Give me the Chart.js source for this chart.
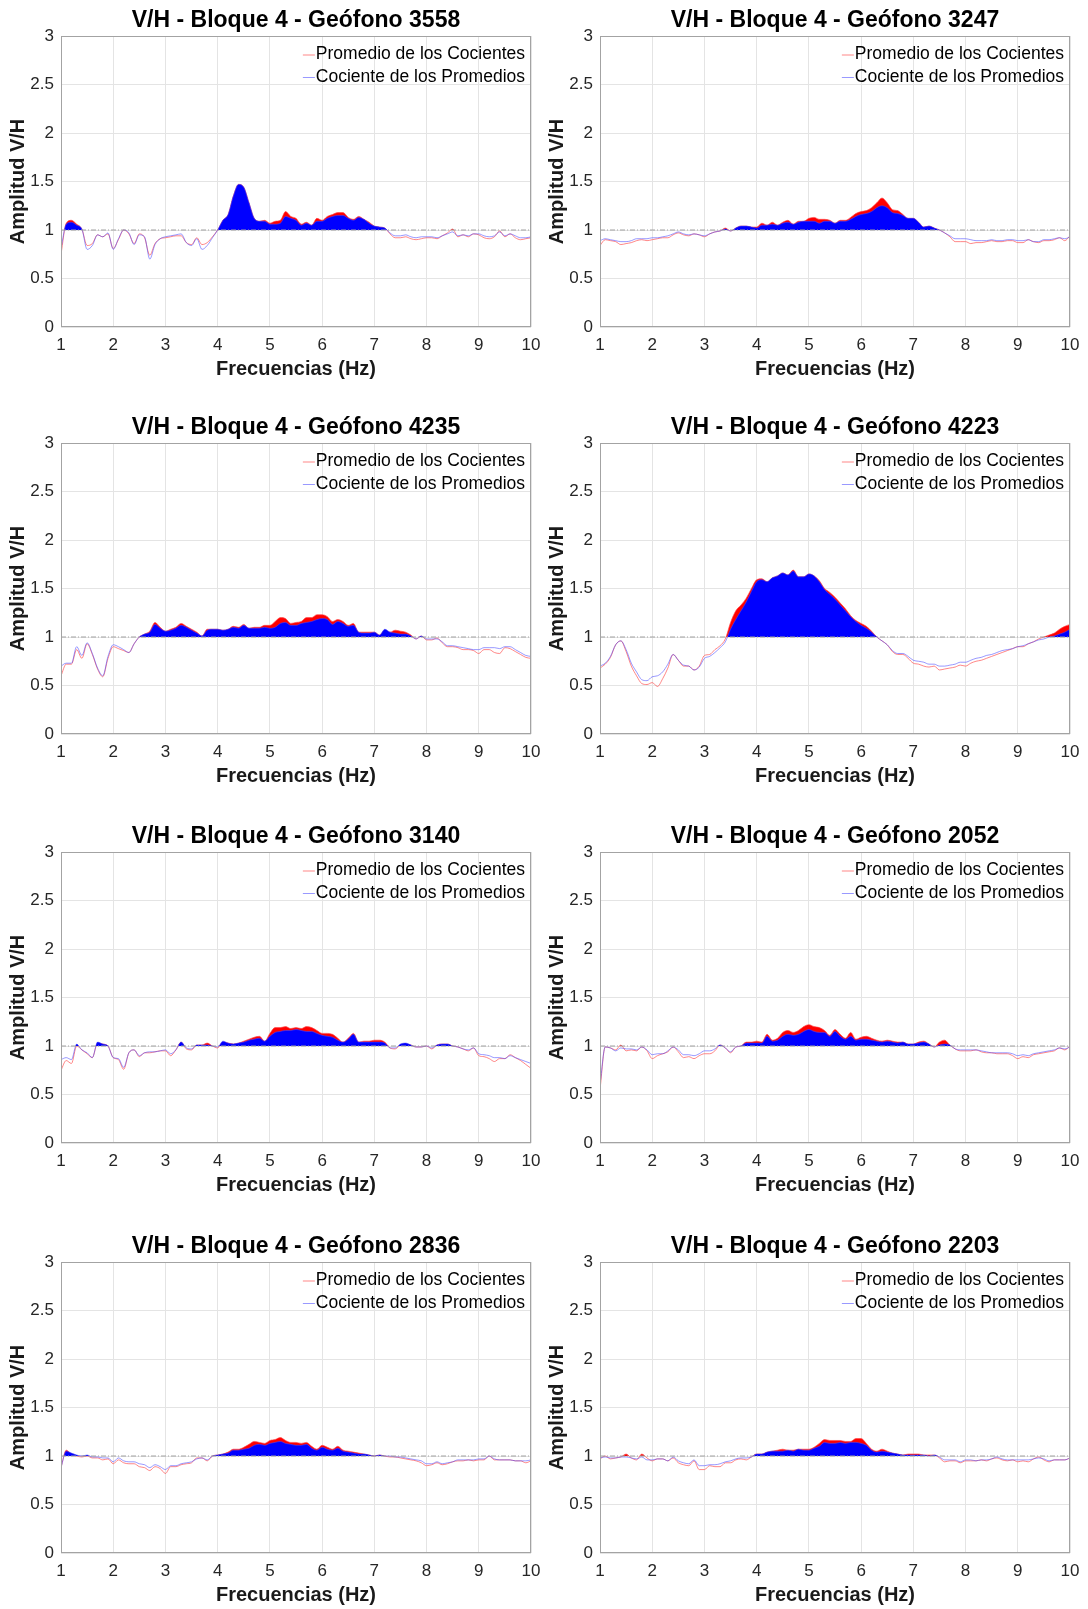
<!DOCTYPE html>
<html>
<head>
<meta charset="utf-8">
<script src="https://cdn.jsdelivr.net/npm/chart.js@4.4.1/dist/chart.umd.min.js"></script>
<style>
  html, body { margin: 0; padding: 0; background: #fff; overflow: hidden; width: 1088px; height: 1609px; }
  canvas { position: absolute; }
</style>
</head>
<body>
<script>
// frequency axis (Hz)
const freqHz = [1.0,1.1,1.2,1.3,1.4,1.5,1.6,1.7,1.8,1.9,
  2.0,2.1,2.2,2.3,2.4,2.5,2.6,2.7,2.8,2.9,
  3.0,3.1,3.2,3.3,3.4,3.5,3.6,3.7,3.8,3.9,
  4.0,4.1,4.2,4.3,4.4,4.5,4.6,4.7,4.8,4.9,
  5.0,5.1,5.2,5.3,5.4,5.5,5.6,5.7,5.8,5.9,
  6.0,6.1,6.2,6.3,6.4,6.5,6.6,6.7,6.8,6.9,
  7.0,7.1,7.2,7.3,7.4,7.5,7.6,7.7,7.8,7.9,
  8.0,8.1,8.2,8.3,8.4,8.5,8.6,8.7,8.8,8.9,
  9.0,9.1,9.2,9.3,9.4,9.5,9.6,9.7,9.8,9.9,
  10.0];

const xTicks = [1, 2, 3, 4, 5, 6, 7, 8, 9, 10];
const yTicks = [0, 0.5, 1, 1.5, 2, 2.5, 3];
const refLevel = 1;

const geofonos = ['3558', '3247', '4235', '4223', '3140', '2052', '2836', '2203'];

// Promedio de los Cocientes (red) / Cociente de los Promedios (blue)
const prom3558 = [0.75,1.07,1.10,1.06,1.01,0.84,0.86,0.95,0.93,0.96,
  0.81,0.90,1.00,0.96,0.86,0.96,0.92,0.74,0.86,0.91,
  0.92,0.93,0.94,0.94,0.87,0.85,0.92,0.85,0.87,0.93,
  1.00,1.10,1.16,1.35,1.47,1.44,1.28,1.12,1.09,1.10,
  1.07,1.09,1.10,1.19,1.14,1.12,1.06,1.08,1.05,1.12,
  1.10,1.14,1.16,1.18,1.18,1.13,1.11,1.14,1.11,1.08,
  1.04,1.03,1.02,0.96,0.92,0.92,0.93,0.91,0.90,0.91,
  0.92,0.92,0.91,0.94,0.97,1.01,0.93,0.95,0.93,0.96,
  0.95,0.92,0.91,0.93,0.99,0.93,0.96,0.92,0.90,0.91,
  0.92];
const coc3558 = [0.81,1.06,1.08,1.05,1.01,0.80,0.84,0.95,0.93,0.97,
  0.80,0.91,1.00,0.97,0.85,0.95,0.93,0.70,0.85,0.91,
  0.93,0.94,0.95,0.96,0.87,0.84,0.91,0.80,0.84,0.92,
  1.00,1.10,1.16,1.35,1.47,1.44,1.28,1.12,1.09,1.09,
  1.06,1.06,1.07,1.14,1.12,1.10,1.05,1.07,1.05,1.09,
  1.09,1.12,1.14,1.15,1.15,1.12,1.10,1.13,1.11,1.07,
  1.04,1.03,1.02,0.97,0.94,0.94,0.95,0.93,0.92,0.93,
  0.93,0.93,0.92,0.94,0.96,0.98,0.94,0.95,0.94,0.96,
  0.96,0.94,0.93,0.94,0.98,0.94,0.96,0.94,0.92,0.92,
  0.93];

const prom3247 = [0.84,0.90,0.89,0.88,0.85,0.86,0.87,0.89,0.90,0.89,
  0.90,0.91,0.92,0.92,0.95,0.97,0.95,0.94,0.96,0.95,
  0.93,0.96,0.98,0.99,1.02,0.99,1.02,1.04,1.04,1.03,
  1.03,1.07,1.05,1.08,1.05,1.08,1.10,1.06,1.09,1.09,
  1.12,1.13,1.11,1.11,1.10,1.07,1.10,1.10,1.13,1.17,
  1.19,1.20,1.23,1.28,1.33,1.28,1.21,1.20,1.16,1.12,
  1.12,1.08,1.03,1.04,1.02,1.00,0.97,0.93,0.88,0.88,
  0.88,0.86,0.87,0.87,0.88,0.89,0.88,0.88,0.89,0.89,
  0.87,0.87,0.90,0.88,0.87,0.89,0.89,0.90,0.92,0.89,
  0.94];
const coc3247 = [0.89,0.91,0.90,0.89,0.88,0.88,0.89,0.91,0.91,0.91,
  0.92,0.92,0.93,0.94,0.96,0.98,0.96,0.95,0.96,0.95,
  0.94,0.96,0.98,0.99,1.01,0.99,1.02,1.04,1.04,1.03,
  1.02,1.05,1.05,1.06,1.05,1.07,1.08,1.06,1.08,1.09,
  1.09,1.09,1.07,1.09,1.09,1.07,1.09,1.09,1.11,1.14,
  1.16,1.17,1.19,1.23,1.25,1.23,1.18,1.17,1.15,1.12,
  1.12,1.08,1.03,1.04,1.02,1.00,0.97,0.94,0.91,0.91,
  0.91,0.90,0.89,0.89,0.89,0.90,0.89,0.89,0.90,0.90,
  0.89,0.89,0.90,0.88,0.88,0.90,0.90,0.91,0.92,0.91,
  0.93];

const prom4235 = [0.60,0.72,0.72,0.87,0.78,0.93,0.82,0.67,0.59,0.78,
  0.90,0.88,0.86,0.84,0.93,1.00,1.03,1.06,1.15,1.10,
  1.06,1.08,1.10,1.14,1.11,1.08,1.05,1.01,1.08,1.08,
  1.08,1.07,1.08,1.11,1.10,1.13,1.09,1.10,1.10,1.12,
  1.12,1.16,1.20,1.19,1.14,1.15,1.16,1.20,1.20,1.23,
  1.23,1.21,1.16,1.18,1.16,1.12,1.14,1.05,1.05,1.05,
  1.05,1.02,1.07,1.05,1.07,1.06,1.05,1.02,0.98,1.01,
  0.97,0.97,0.99,0.94,0.90,0.90,0.89,0.87,0.87,0.86,
  0.83,0.87,0.87,0.84,0.83,0.89,0.88,0.85,0.82,0.79,
  0.78];
const coc4235 = [0.70,0.73,0.73,0.90,0.81,0.94,0.83,0.68,0.60,0.80,
  0.92,0.90,0.87,0.84,0.93,1.00,1.03,1.05,1.13,1.09,
  1.06,1.07,1.09,1.12,1.10,1.07,1.04,1.01,1.07,1.08,
  1.08,1.07,1.08,1.10,1.09,1.12,1.09,1.09,1.09,1.10,
  1.09,1.10,1.14,1.15,1.12,1.12,1.14,1.15,1.16,1.18,
  1.19,1.18,1.13,1.16,1.14,1.11,1.12,1.05,1.04,1.04,
  1.05,1.02,1.08,1.05,1.04,1.03,1.03,1.01,0.98,1.01,
  0.98,0.98,0.98,0.95,0.91,0.91,0.90,0.89,0.88,0.87,
  0.87,0.89,0.89,0.89,0.88,0.90,0.90,0.87,0.84,0.81,
  0.80];

const prom4223 = [0.68,0.72,0.79,0.92,0.96,0.85,0.70,0.60,0.52,0.51,
  0.53,0.49,0.57,0.68,0.82,0.76,0.70,0.70,0.66,0.70,
  0.81,0.82,0.87,0.91,0.98,1.15,1.27,1.33,1.40,1.50,
  1.59,1.60,1.57,1.61,1.63,1.66,1.64,1.69,1.62,1.62,
  1.65,1.63,1.58,1.50,1.46,1.41,1.35,1.29,1.22,1.17,
  1.14,1.11,1.06,1.00,0.96,0.92,0.85,0.82,0.82,0.78,
  0.73,0.72,0.70,0.69,0.70,0.66,0.67,0.68,0.69,0.71,
  0.70,0.73,0.75,0.76,0.78,0.80,0.82,0.84,0.86,0.88,
  0.90,0.90,0.93,0.95,0.98,1.00,1.02,1.04,1.08,1.11,
  1.13];
const coc4223 = [0.70,0.73,0.80,0.92,0.96,0.87,0.73,0.64,0.56,0.55,
  0.59,0.60,0.64,0.72,0.82,0.76,0.71,0.70,0.66,0.69,
  0.78,0.80,0.84,0.89,0.95,1.08,1.18,1.27,1.36,1.47,
  1.57,1.59,1.57,1.61,1.63,1.66,1.64,1.68,1.62,1.62,
  1.65,1.63,1.57,1.49,1.44,1.39,1.33,1.27,1.21,1.16,
  1.12,1.09,1.05,1.00,0.96,0.92,0.86,0.83,0.83,0.80,
  0.76,0.75,0.74,0.72,0.72,0.70,0.70,0.71,0.72,0.74,
  0.74,0.76,0.78,0.79,0.81,0.82,0.84,0.86,0.87,0.88,
  0.90,0.91,0.93,0.95,0.97,0.98,1.00,1.01,1.03,1.05,
  1.08];

const prom3140 = [0.75,0.85,0.82,1.00,0.96,0.92,0.88,1.03,1.02,1.00,
  0.88,0.86,0.76,0.93,0.96,0.89,0.93,0.93,0.94,0.95,
  0.95,0.90,0.96,1.04,0.97,0.96,1.01,1.01,1.03,1.00,
  0.98,1.04,1.03,1.02,1.03,1.05,1.07,1.09,1.10,1.05,
  1.13,1.19,1.19,1.20,1.18,1.19,1.18,1.20,1.19,1.16,
  1.13,1.13,1.12,1.08,1.04,1.08,1.13,1.04,1.05,1.05,
  1.06,1.06,1.04,0.98,0.97,1.01,1.02,1.01,0.99,0.99,
  1.00,0.97,1.01,1.02,1.02,1.00,0.99,0.97,0.95,0.98,
  0.90,0.89,0.87,0.84,0.87,0.87,0.91,0.88,0.85,0.81,
  0.77];
const coc3140 = [0.86,0.88,0.86,1.02,0.96,0.93,0.88,1.04,1.02,1.00,
  0.88,0.87,0.78,0.93,0.96,0.90,0.93,0.94,0.94,0.95,
  0.96,0.92,0.96,1.04,0.98,0.97,1.01,1.01,1.01,1.00,
  0.99,1.05,1.03,1.02,1.03,1.04,1.06,1.07,1.08,1.05,
  1.10,1.14,1.15,1.16,1.16,1.17,1.16,1.15,1.15,1.13,
  1.11,1.10,1.09,1.06,1.04,1.07,1.12,1.04,1.04,1.04,
  1.04,1.04,1.03,0.98,0.98,1.02,1.03,1.01,0.99,0.99,
  1.00,0.98,1.01,1.02,1.02,1.00,0.99,0.97,0.96,0.98,
  0.92,0.91,0.90,0.88,0.88,0.87,0.90,0.88,0.86,0.84,
  0.82];

const prom2052 = [0.55,0.99,0.98,0.96,1.01,0.95,0.96,0.95,0.99,0.95,
  0.87,0.90,0.92,0.94,0.99,0.94,0.88,0.89,0.87,0.90,
  0.92,0.92,0.95,1.01,0.98,0.93,0.99,1.00,1.04,1.04,
  1.05,1.04,1.12,1.06,1.08,1.14,1.16,1.14,1.16,1.20,
  1.22,1.20,1.19,1.16,1.11,1.17,1.12,1.08,1.14,1.07,
  1.09,1.10,1.08,1.06,1.05,1.06,1.05,1.04,1.04,1.02,
  1.02,1.04,1.05,1.02,0.99,1.04,1.06,1.01,0.97,0.95,
  0.95,0.95,0.96,0.94,0.93,0.93,0.92,0.92,0.92,0.90,
  0.87,0.89,0.88,0.91,0.92,0.93,0.94,0.95,0.98,0.96,
  1.00];
const coc2052 = [0.60,0.99,0.98,0.95,0.98,0.97,0.97,0.96,0.99,0.96,
  0.91,0.92,0.92,0.95,0.99,0.96,0.91,0.91,0.90,0.92,
  0.95,0.95,0.97,1.01,0.98,0.94,0.99,1.00,1.03,1.03,
  1.03,1.03,1.10,1.05,1.06,1.10,1.12,1.11,1.12,1.15,
  1.17,1.15,1.14,1.14,1.10,1.15,1.10,1.07,1.10,1.06,
  1.07,1.07,1.06,1.05,1.04,1.05,1.04,1.03,1.04,1.02,
  1.02,1.03,1.04,1.02,0.99,1.01,1.02,1.01,0.97,0.96,
  0.96,0.96,0.96,0.95,0.94,0.93,0.93,0.93,0.93,0.92,
  0.90,0.91,0.90,0.92,0.93,0.94,0.95,0.96,0.98,0.97,
  0.99];

const prom2836 = [0.88,1.06,1.02,1.00,0.99,1.00,0.98,0.98,0.96,0.97,
  0.92,0.96,0.93,0.92,0.92,0.89,0.88,0.85,0.89,0.87,
  0.82,0.89,0.89,0.91,0.92,0.93,0.98,0.98,0.95,1.00,
  1.01,1.02,1.04,1.07,1.07,1.09,1.12,1.15,1.14,1.13,
  1.16,1.17,1.19,1.16,1.14,1.14,1.13,1.14,1.10,1.07,
  1.11,1.09,1.07,1.10,1.06,1.05,1.04,1.03,1.02,1.01,
  1.00,1.01,1.00,0.99,0.99,0.98,0.97,0.96,0.95,0.93,
  0.90,0.91,0.93,0.91,0.92,0.94,0.95,0.95,0.96,0.95,
  0.96,0.96,1.00,0.96,0.96,0.96,0.96,0.95,0.95,0.93,
  0.95];
const coc2836 = [0.88,1.05,1.03,1.01,1.00,1.01,0.99,0.99,0.98,0.98,
  0.94,0.98,0.95,0.94,0.94,0.92,0.91,0.88,0.91,0.89,
  0.86,0.90,0.90,0.92,0.93,0.94,0.97,0.98,0.96,1.00,
  1.01,1.02,1.03,1.06,1.06,1.07,1.08,1.11,1.12,1.11,
  1.13,1.14,1.15,1.13,1.12,1.11,1.11,1.12,1.08,1.06,
  1.09,1.07,1.06,1.08,1.05,1.04,1.03,1.02,1.02,1.01,
  1.00,1.01,1.00,1.00,0.99,0.99,0.98,0.97,0.96,0.95,
  0.92,0.92,0.94,0.92,0.93,0.94,0.96,0.96,0.96,0.96,
  0.97,0.97,1.00,0.97,0.96,0.96,0.96,0.95,0.95,0.95,
  0.96];

const prom2203 = [0.97,1.00,0.97,0.98,0.99,1.02,0.98,0.96,1.02,0.98,
  0.95,0.97,0.97,0.95,0.98,0.93,0.91,0.90,0.95,0.86,
  0.86,0.90,0.89,0.89,0.93,0.93,0.96,0.97,0.96,0.99,
  1.02,1.02,1.04,1.05,1.06,1.07,1.06,1.06,1.07,1.07,
  1.07,1.09,1.13,1.17,1.16,1.16,1.16,1.15,1.15,1.18,
  1.18,1.13,1.07,1.05,1.07,1.05,1.03,1.02,1.01,1.02,
  1.02,1.02,1.01,1.01,1.01,0.98,0.94,0.95,0.95,0.93,
  0.95,0.95,0.95,0.96,0.95,0.97,0.98,0.96,0.95,0.96,
  0.94,0.95,0.94,0.97,0.99,0.96,0.94,0.96,0.96,0.96,
  0.98];
const coc2203 = [0.98,0.99,0.98,0.98,0.99,0.99,0.98,0.97,0.99,0.96,
  0.96,0.97,0.97,0.95,0.99,0.95,0.93,0.92,0.96,0.90,
  0.90,0.91,0.91,0.92,0.94,0.95,0.97,0.98,0.98,0.99,
  1.02,1.02,1.04,1.05,1.05,1.05,1.06,1.05,1.07,1.06,
  1.06,1.08,1.10,1.14,1.13,1.13,1.14,1.13,1.14,1.14,
  1.13,1.11,1.06,1.04,1.05,1.04,1.03,1.02,1.01,1.01,
  1.01,1.01,1.01,1.00,1.01,0.99,0.96,0.96,0.96,0.94,
  0.96,0.96,0.95,0.96,0.96,0.97,0.99,0.97,0.96,0.96,
  0.96,0.96,0.96,0.97,0.98,0.97,0.95,0.96,0.96,0.96,
  0.98];

const promedios = [prom3558, prom3247, prom4235, prom4223, prom3140, prom2052, prom2836, prom2203];
const cocientes = [coc3558, coc3247, coc4235, coc4223, coc3140, coc2052, coc2836, coc2203];

const FONT = '"Liberation Sans", Arial, Helvetica, sans-serif';
Chart.defaults.font.family = FONT;

const gridColor = '#e4e4e4';
const boxColor = '#a3a3a3';
const tickColor = '#262626';

// grey box round the plot area (MATLAB "box on")
const boxPlugin = {
  id: 'axesBox',
  afterDraw(chart) {
    const { ctx, chartArea: a } = chart;
    ctx.save();
    ctx.strokeStyle = boxColor;
    ctx.lineWidth = 1;
    ctx.strokeRect(Math.round(a.left) + 0.5, Math.round(a.top) + 0.5,
      Math.round(a.right - a.left) - 1, Math.round(a.bottom - a.top) - 1);
    ctx.restore();
  }
};

// legend in the upper right corner, inside the axes, no frame
const cornerLegend = {
  id: 'cornerLegend',
  afterDraw(chart) {
    const { ctx, chartArea: a } = chart;
    const items = chart.data.datasets.filter(d => d.inLegend);
    ctx.save();
    ctx.font = '17.5px ' + FONT;
    const w = Math.max(...items.map(d => ctx.measureText(d.label).width));
    const tx = a.right - 6 - w;
    items.forEach((d, i) => {
      const y = a.top + 18.5 + i * 22.5;
      ctx.strokeStyle = d.borderColor;
      ctx.lineWidth = 1;
      ctx.beginPath();
      ctx.moveTo(tx - 13, y + 0.5);
      ctx.lineTo(tx - 1, y + 0.5);
      ctx.stroke();
      ctx.fillStyle = '#000';
      ctx.textAlign = 'left';
      ctx.textBaseline = 'middle';
      ctx.fillText(d.label, tx, y);
    });
    ctx.restore();
  }
};

const toPoints = ys => ys.map((v, i) => ({ x: freqHz[i], y: v }));

const colLeft = [0, 539];
const rowTop = [0, 407, 816, 1226];

geofonos.forEach((g, k) => {
  const canvas = document.createElement('canvas');
  canvas.width = 592;
  canvas.height = 382;
  canvas.style.left = colLeft[k % 2] + 'px';
  canvas.style.top = rowTop[Math.floor(k / 2)] + 'px';
  document.body.appendChild(canvas);

  new Chart(canvas.getContext('2d'), {
    type: 'line',
    data: {
      datasets: [{
        label: 'Promedio de los Cocientes',
        data: toPoints(promedios[k]),
        borderColor: 'rgba(255, 70, 70, 0.65)',
        borderWidth: 1,
        pointRadius: 0,
        cubicInterpolationMode: 'monotone',
        fill: { target: { value: refLevel }, above: '#ff0000', below: 'rgba(0,0,0,0)' },
        inLegend: true,
        order: 2
      }, {
        label: 'Cociente de los Promedios',
        data: toPoints(cocientes[k]),
        borderColor: 'rgba(70, 70, 255, 0.55)',
        borderWidth: 1,
        pointRadius: 0,
        cubicInterpolationMode: 'monotone',
        fill: { target: { value: refLevel }, above: '#0000ff', below: 'rgba(0,0,0,0)' },
        inLegend: true,
        order: 1
      }, {
        label: 'ref',
        data: [{ x: freqHz[0], y: refLevel }, { x: freqHz[freqHz.length - 1], y: refLevel }],
        borderColor: '#a0a0a0',
        borderWidth: 1,
        borderDash: [5, 2, 1, 2],
        pointRadius: 0,
        fill: false,
        order: 0
      }]
    },
    options: {
      responsive: false,
      animation: false,
      events: [],
      layout: { padding: 0 },
      plugins: {
        legend: { display: false },
        tooltip: { enabled: false },
        title: {
          display: true,
          text: 'V/H - Bloque 4 - Geófono ' + g,
          color: '#000',
          font: { size: 23, weight: 'bold' },
          padding: { top: 7, bottom: 1.4 }
        }
      },
      scales: {
        x: {
          type: 'linear',
          min: 1, max: 10,
          afterBuildTicks: s => { s.ticks = xTicks.map(v => ({ value: v })); },
          afterFit: s => { s.height = 55; },
          ticks: { color: tickColor, font: { size: 17 }, padding: 8.5, maxRotation: 0, callback: v => String(v) },
          grid: { color: gridColor, drawTicks: false },
          border: { display: false },
          title: {
            display: true, text: 'Frecuencias (Hz)', color: '#1a1a1a',
            font: { size: 20, weight: 'bold' }, padding: { top: 0, bottom: 1 }
          }
        },
        y: {
          min: 0, max: 3,
          afterBuildTicks: s => { s.ticks = yTicks.map(v => ({ value: v })); },
          afterFit: s => { s.width = 61; },
          ticks: { color: tickColor, font: { size: 17 }, padding: 7, callback: v => String(v) },
          grid: { color: gridColor, drawTicks: false },
          border: { display: false },
          title: {
            display: true, text: 'Amplitud V/H', color: '#1a1a1a',
            font: { size: 20, weight: 'bold' }, padding: { top: 6.5, bottom: 0 }
          }
        },
        // empty right-hand axis: keeps the plot box where it is and the title centred on it
        yPad: {
          position: 'right',
          min: 0, max: 3,
          afterFit: s => { s.width = 61; },
          ticks: { display: false },
          grid: { display: false, drawTicks: false },
          border: { display: false }
        }
      }
    },
    plugins: [boxPlugin, cornerLegend]
  });
});
</script>
</body>
</html>
